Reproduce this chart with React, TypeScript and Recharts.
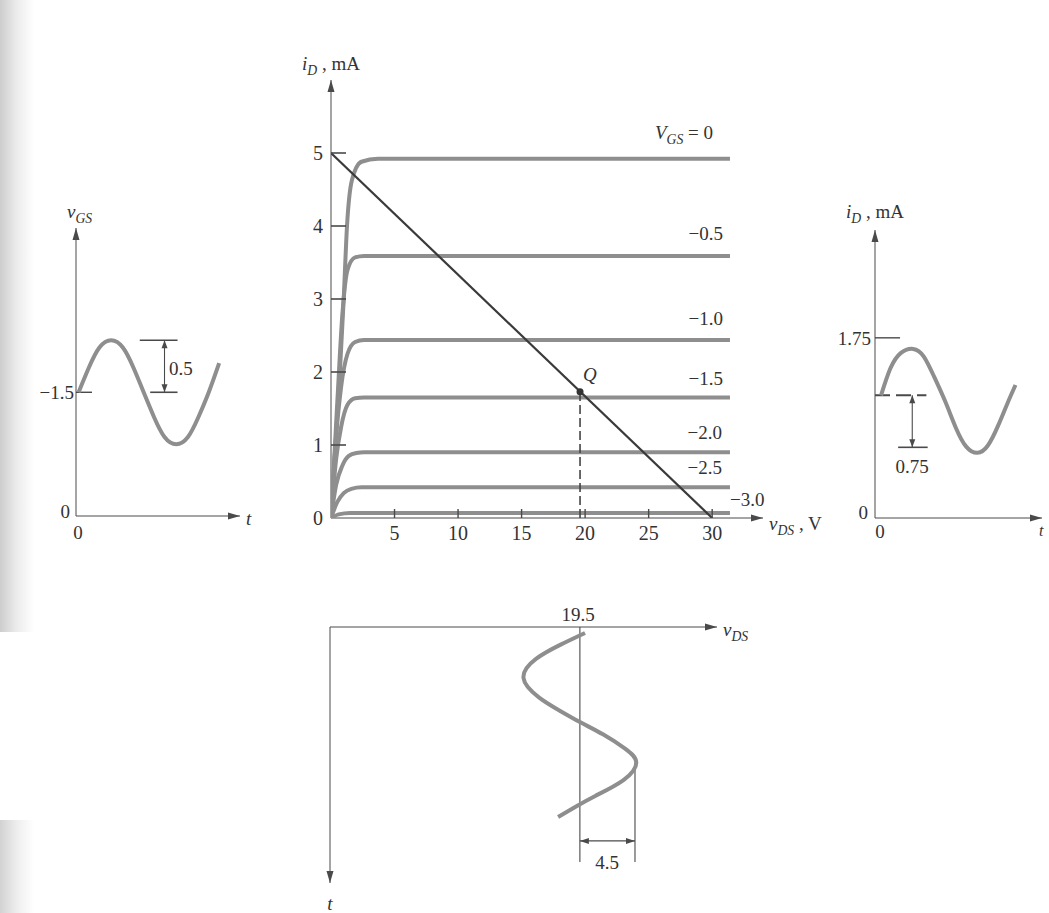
import { LineChart, Line, XAxis, YAxis, ReferenceLine, ReferenceDot } from 'recharts';
import type { ReactNode } from 'react';

const SERIF = '"Liberation Serif", "DejaVu Serif", serif';
const INK = '#333';
const AXIS = '#4a4a4a';
const CURVE = '#8e8e8e';

// main chart: output characteristics, v_DS (V) vs i_D (mA)
const vdsTicks = [5, 10, 15, 20, 25, 30];
const idTicks = [0, 1, 2, 3, 4, 5];

const vgs0 = [{ x: 0, y: 0 }, { x: 0.35, y: 1.0 }, { x: 0.7, y: 2.0 }, { x: 1.0, y: 3.0 }, { x: 1.26, y: 4.0 }, { x: 1.65, y: 4.63 }, { x: 2.4, y: 4.88 }, { x: 3.7, y: 4.92 }, { x: 31.4, y: 4.92 }];
const vgsM05 = [{ x: 0, y: 0 }, { x: 0.5, y: 1.6 }, { x: 0.9, y: 2.8 }, { x: 1.3, y: 3.4 }, { x: 1.9, y: 3.57 }, { x: 2.6, y: 3.59 }, { x: 31.4, y: 3.59 }];
const vgsM10 = [{ x: 0, y: 0 }, { x: 0.4, y: 1.1 }, { x: 0.8, y: 1.8 }, { x: 1.3, y: 2.25 }, { x: 1.9, y: 2.41 }, { x: 2.6, y: 2.44 }, { x: 31.4, y: 2.44 }];
const vgsM15 = [{ x: 0, y: 0 }, { x: 0.4, y: 0.8 }, { x: 0.8, y: 1.25 }, { x: 1.3, y: 1.55 }, { x: 1.9, y: 1.64 }, { x: 2.6, y: 1.65 }, { x: 31.4, y: 1.65 }];
const vgsM20 = [{ x: 0, y: 0 }, { x: 0.4, y: 0.45 }, { x: 0.9, y: 0.72 }, { x: 1.4, y: 0.85 }, { x: 2.0, y: 0.89 }, { x: 2.6, y: 0.9 }, { x: 31.4, y: 0.9 }];
const vgsM25 = [{ x: 0, y: 0 }, { x: 0.5, y: 0.22 }, { x: 1.0, y: 0.34 }, { x: 1.6, y: 0.4 }, { x: 2.4, y: 0.42 }, { x: 31.4, y: 0.42 }];
const vgsM30 = [{ x: 0, y: 0 }, { x: 0.6, y: 0.05 }, { x: 1.5, y: 0.07 }, { x: 31.4, y: 0.07 }];
const curves = [vgs0, vgsM05, vgsM10, vgsM15, vgsM20, vgsM25, vgsM30];

const loadLine = [{ x: 0, y: 5 }, { x: 30, y: 0 }];
const qPoint = { x: 19.6, y: 1.73 };

// input: v_GS against t (t in periods)
const vgsWave = [
  { t: 0.02, v: -1.5 }, { t: 0.1, v: -1.26 }, { t: 0.18, v: -1.07 }, { t: 0.27, v: -1.0 },
  { t: 0.36, v: -1.07 }, { t: 0.44, v: -1.26 }, { t: 0.52, v: -1.5 }, { t: 0.6, v: -1.74 },
  { t: 0.68, v: -1.93 }, { t: 0.77, v: -2.0 }, { t: 0.86, v: -1.93 }, { t: 0.94, v: -1.74 },
  { t: 1.02, v: -1.5 }, { t: 1.1, v: -1.22 },
];

// output current: i_D against t
const idWave = [
  { t: 0.047, v: 1.77 }, { t: 0.12, v: 2.16 }, { t: 0.2, v: 2.38 }, { t: 0.297, v: 2.44 },
  { t: 0.38, v: 2.33 }, { t: 0.46, v: 2.04 }, { t: 0.547, v: 1.68 }, { t: 0.63, v: 1.3 },
  { t: 0.71, v: 1.03 }, { t: 0.797, v: 0.94 }, { t: 0.88, v: 1.05 }, { t: 0.96, v: 1.34 },
  { t: 1.03, v: 1.65 }, { t: 1.094, v: 1.92 },
];

// output voltage: v_DS against t (t runs downward)
const vdsWave = [
  { t: 0.034, v: 19.9 }, { t: 0.1, v: 18.0 }, { t: 0.18, v: 16.1 }, { t: 0.29, v: 15.1 },
  { t: 0.4, v: 16.3 }, { t: 0.47, v: 17.8 }, { t: 0.54, v: 19.5 }, { t: 0.61, v: 21.3 },
  { t: 0.69, v: 23.0 }, { t: 0.77, v: 23.9 }, { t: 0.87, v: 22.9 }, { t: 0.96, v: 20.7 },
  { t: 1.02, v: 19.2 }, { t: 1.08, v: 17.8 },
];

function head(x1: number, y1: number, x2: number, y2: number, len: number, w: number) {
  const a = Math.atan2(y2 - y1, x2 - x1);
  const bx = x2 - len * Math.cos(a);
  const by = y2 - len * Math.sin(a);
  const px = -Math.sin(a) * w;
  const py = Math.cos(a) * w;
  return `${x2},${y2} ${bx + px},${by + py} ${bx - px},${by - py}`;
}

const arrowShape = (ends: 'end' | 'both', len = 12, w = 3.5) => (p: any) => {
  const { x1, y1, x2, y2 } = p;
  const stroke = p.stroke ?? AXIS;
  return (
    <g>
      <line x1={x1} y1={y1} x2={x2} y2={y2} stroke={stroke} strokeWidth={p.strokeWidth ?? 1.3} />
      <polygon points={head(x1, y1, x2, y2, len, w)} fill={stroke} />
      {ends === 'both' && <polygon points={head(x2, y2, x1, y1, len, w)} fill={stroke} />}
    </g>
  );
};

const XTick = ({ x, y, payload }: any) => (
  <g>
    <line x1={x} y1={y} x2={x} y2={y - 9} stroke={AXIS} strokeWidth={1.4} />
    <text x={x} y={y + 22} textAnchor="middle" fontSize={20} fill={INK} fontFamily={SERIF}>{payload.value}</text>
  </g>
);

const YTick = ({ x, y, payload }: any) => (
  <g>
    {payload.value > 0 && <line x1={x} y1={y} x2={x + 15} y2={y} stroke={AXIS} strokeWidth={1.6} />}
    <text x={x - 8} y={y + 7} textAnchor="end" fontSize={20} fill={INK} fontFamily={SERIF}>{payload.value}</text>
  </g>
);

function Txt({ x, y, anchor = 'start', size = 19, italic = false, children }: { x: number; y: number; anchor?: 'start' | 'middle' | 'end'; size?: number; italic?: boolean; children: ReactNode }) {
  const tx = anchor === 'end' ? '-100%' : anchor === 'middle' ? '-50%' : '0';
  return (
    <div style={{
      position: 'absolute', left: x, top: y, transform: `translate(${tx}, -50%)`,
      fontFamily: SERIF, fontSize: size, color: INK, lineHeight: 1, whiteSpace: 'nowrap',
      fontStyle: italic ? 'italic' : 'normal',
    }}>
      {children}
    </div>
  );
}

const Sub = ({ children }: { children: ReactNode }) => (
  <span style={{ fontSize: '0.72em', fontStyle: 'italic', position: 'relative', top: '0.35em' }}>{children}</span>
);

const place = (left: number, top: number) => ({ position: 'absolute' as const, left, top });

export default function App() {
  return (
    <div style={{ position: 'absolute', left: 0, top: 0, width: 1049, height: 913, overflow: 'hidden', background: '#fff' }}>
      {/* scan shading at the left edge */}
      <div style={{ ...place(0, 0), width: 34, height: 632, background: 'linear-gradient(to right, #cdcdcd, #ececec 50%, #ffffff)' }} />
      <div style={{ ...place(0, 820), width: 34, height: 93, background: 'linear-gradient(to right, #d2d2d2, #eeeeee 50%, #ffffff)' }} />

      {/* characteristics + load line */}
      <div style={place(271, 30)}>
        <LineChart width={542} height={518} margin={{ top: 50, right: 50, left: 10, bottom: 0 }}>
          <XAxis type="number" dataKey="x" domain={[0, 34]} ticks={vdsTicks} interval={0} allowDataOverflow
            axisLine={false} tickLine={false} tickSize={0} tickMargin={0} height={30} tick={(p: any) => <XTick {...p} />} />
          <YAxis type="number" domain={[0, 6]} ticks={idTicks} interval={0} allowDataOverflow
            axisLine={false} tickLine={false} tickSize={0} tickMargin={0} width={50} tick={(p: any) => <YTick {...p} />} />
          <ReferenceLine segment={[{ x: 0, y: 0 }, { x: 0, y: 6 }]} stroke={AXIS} shape={arrowShape('end')} />
          <ReferenceLine segment={[{ x: 0, y: 0 }, { x: 34, y: 0 }]} stroke={AXIS} shape={arrowShape('end')} />
          {curves.map((c, i) => (
            <Line key={i} data={c} dataKey="y" type="monotone" stroke={CURVE} strokeWidth={4}
              dot={false} activeDot={false} isAnimationActive={false} />
          ))}
          <ReferenceLine segment={[{ x: qPoint.x, y: 0 }, { x: qPoint.x, y: qPoint.y }]} stroke="#444" strokeWidth={1.6} strokeDasharray="9 4" />
          <Line data={loadLine} dataKey="y" type="linear" stroke="#3a3a3a" strokeWidth={2.2}
            dot={false} activeDot={false} isAnimationActive={false} />
          <ReferenceDot x={qPoint.x} y={qPoint.y} r={3.5} fill="#333" stroke="none" />
        </LineChart>
      </div>
      <Txt x={302} y={63}><i>i</i><Sub>D</Sub> , mA</Txt>
      <Txt x={655} y={132}><i>V</i><Sub>GS</Sub> = 0</Txt>
      <Txt x={723} y={233} anchor="end">−0.5</Txt>
      <Txt x={723} y={318} anchor="end">−1.0</Txt>
      <Txt x={723} y={378} anchor="end">−1.5</Txt>
      <Txt x={722} y={432} anchor="end">−2.0</Txt>
      <Txt x={722} y={467} anchor="end">−2.5</Txt>
      <Txt x={730} y={499}>−3.0</Txt>
      <Txt x={583} y={374} italic>Q</Txt>
      <Txt x={769} y={523}><i>v</i><Sub>DS</Sub> , V</Txt>

      {/* v_GS input */}
      <div style={place(56, 208)}>
        <LineChart width={204} height={328} margin={{ top: 20, right: 20, left: 20, bottom: 20 }}>
          <XAxis type="number" dataKey="t" domain={[0, 1.26]} hide allowDataOverflow />
          <YAxis type="number" domain={[-2.69, 0.08]} hide allowDataOverflow />
          <ReferenceLine segment={[{ x: 0, y: -2.69 }, { x: 0, y: 0.08 }]} stroke={AXIS} shape={arrowShape('end')} />
          <ReferenceLine segment={[{ x: 0, y: -2.69 }, { x: 1.26, y: -2.69 }]} stroke={AXIS} shape={arrowShape('end')} />
          <ReferenceLine segment={[{ x: 0, y: -1.5 }, { x: 0.123, y: -1.5 }]} stroke={AXIS} strokeWidth={1.4} />
          <ReferenceLine segment={[{ x: 0.49, y: -1.0 }, { x: 0.78, y: -1.0 }]} stroke={AXIS} strokeWidth={1.6} />
          <ReferenceLine segment={[{ x: 0.57, y: -1.5 }, { x: 0.78, y: -1.5 }]} stroke={AXIS} strokeWidth={1.6} />
          <ReferenceLine segment={[{ x: 0.68, y: -1.0 }, { x: 0.68, y: -1.5 }]} stroke={AXIS} strokeWidth={1.1} shape={arrowShape('both', 8, 3)} />
          <Line data={vgsWave} dataKey="v" type="natural" stroke={CURVE} strokeWidth={4}
            dot={false} activeDot={false} isAnimationActive={false} />
        </LineChart>
      </div>
      <Txt x={67} y={211}><i>v</i><Sub>GS</Sub></Txt>
      <Txt x={74} y={392} anchor="end">−1.5</Txt>
      <Txt x={169} y={368}>0.5</Txt>
      <Txt x={70} y={511} anchor="end">0</Txt>
      <Txt x={78} y={532} anchor="middle">0</Txt>
      <Txt x={246} y={518} italic>t</Txt>

      {/* i_D output */}
      <div style={place(855, 210)}>
        <LineChart width={192} height={328} margin={{ top: 20, right: 5, left: 20, bottom: 20 }}>
          <XAxis type="number" dataKey="t" domain={[0, 1.3]} hide allowDataOverflow />
          <YAxis type="number" domain={[0, 4.156]} hide allowDataOverflow />
          <ReferenceLine segment={[{ x: 0, y: 0 }, { x: 0, y: 4.156 }]} stroke={AXIS} shape={arrowShape('end')} />
          <ReferenceLine segment={[{ x: 0, y: 0 }, { x: 1.3, y: 0 }]} stroke={AXIS} shape={arrowShape('end')} />
          <ReferenceLine segment={[{ x: 0, y: 2.6 }, { x: 0.195, y: 2.6 }]} stroke={AXIS} strokeWidth={1.4} />
          <ReferenceLine segment={[{ x: 0, y: 1.77 }, { x: 0.4, y: 1.77 }]} stroke={AXIS} strokeWidth={2} strokeDasharray="15 6" />
          <ReferenceLine segment={[{ x: 0.29, y: 1.77 }, { x: 0.29, y: 1.02 }]} stroke={AXIS} strokeWidth={1.1} shape={arrowShape('both', 8, 3)} />
          <ReferenceLine segment={[{ x: 0.18, y: 1.02 }, { x: 0.41, y: 1.02 }]} stroke={AXIS} strokeWidth={1.6} />
          <Line data={idWave} dataKey="v" type="natural" stroke={CURVE} strokeWidth={4}
            dot={false} activeDot={false} isAnimationActive={false} />
        </LineChart>
      </div>
      <Txt x={846} y={211}><i>i</i><Sub>D</Sub> , mA</Txt>
      <Txt x={871} y={338} anchor="end">1.75</Txt>
      <Txt x={912} y={466} anchor="middle">0.75</Txt>
      <Txt x={868} y={512} anchor="end">0</Txt>
      <Txt x={880} y={531} anchor="middle">0</Txt>
      <Txt x={1039} y={531} size={16} italic>t</Txt>

      {/* v_DS output, time running down */}
      <div style={place(310, 607)}>
        <LineChart layout="vertical" width={427} height={296} margin={{ top: 20, right: 20, left: 20, bottom: 20 }}>
          <XAxis type="number" domain={[0, 30.2]} hide allowDataOverflow />
          <YAxis type="number" dataKey="t" domain={[0, 1.455]} hide allowDataOverflow />
          <ReferenceLine segment={[{ x: 0, y: 0 }, { x: 0, y: 1.455 }]} stroke={AXIS} shape={arrowShape('end')} />
          <ReferenceLine segment={[{ x: 0, y: 0 }, { x: 30.2, y: 0 }]} stroke={AXIS} shape={arrowShape('end')} />
          <ReferenceLine segment={[{ x: 19.5, y: 0 }, { x: 19.5, y: 1.335 }]} stroke={AXIS} strokeWidth={1.1} />
          <ReferenceLine segment={[{ x: 23.8, y: 0.77 }, { x: 23.8, y: 1.335 }]} stroke={AXIS} strokeWidth={1.1} />
          <ReferenceLine segment={[{ x: 19.5, y: 1.216 }, { x: 23.8, y: 1.216 }]} stroke={AXIS} strokeWidth={1.3} shape={arrowShape('both', 9, 3)} />
          <Line data={vdsWave} dataKey="v" type="natural" stroke={CURVE} strokeWidth={4}
            dot={false} activeDot={false} isAnimationActive={false} />
        </LineChart>
      </div>
      <Txt x={578} y={614} anchor="middle">19.5</Txt>
      <Txt x={723} y={629}><i>v</i><Sub>DS</Sub></Txt>
      <Txt x={607} y={862} anchor="middle">4.5</Txt>
      <Txt x={330} y={903} anchor="middle" italic>t</Txt>
    </div>
  );
}
